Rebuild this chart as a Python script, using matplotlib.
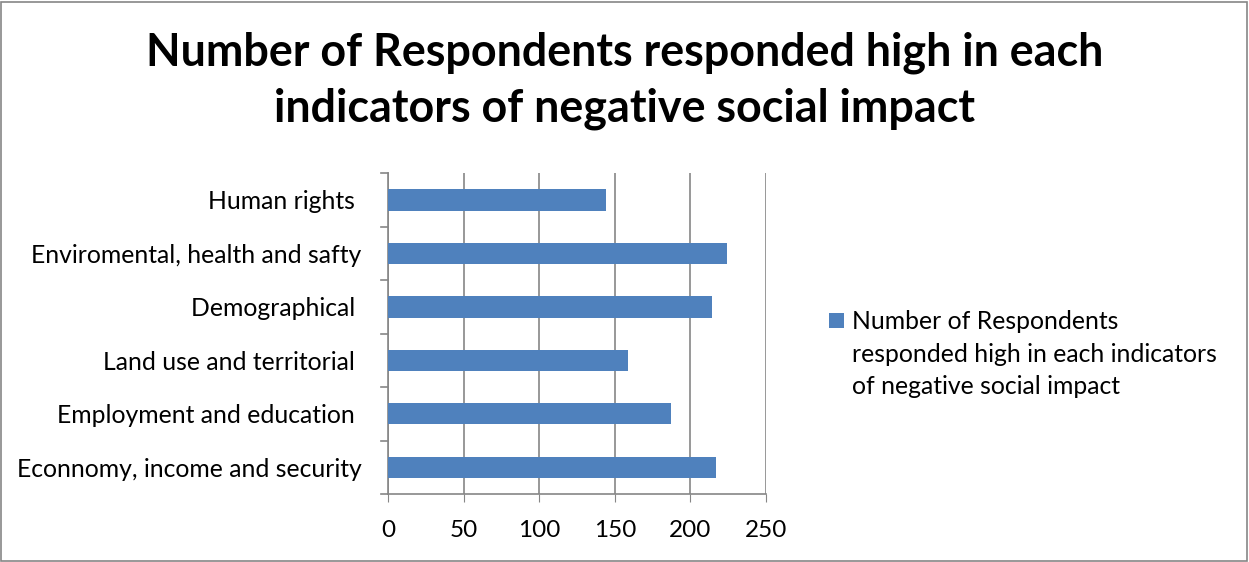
import matplotlib.pyplot as plt
from matplotlib.patches import Rectangle

# Data
categories = ['Econnomy, income and security', 'Employment and education ',
              'Land use and territorial ', 'Demographical ',
              'Enviromental, health and safty', 'Human rights ']
values = [217, 187, 159, 214, 224, 144]
xticks = [0, 50, 100, 150, 200, 250]
series_label = 'Number of Respondents\nresponded high in each indicators\nof negative social impact'
title = 'Number of Respondents responded high in each\nindicators of negative social impact'

plt.rcParams['font.family'] = ['Lato', 'DejaVu Sans']

fig = plt.figure(figsize=(12.49, 5.62), dpi=100)
ax = fig.add_axes([0.3106, 0.121, 0.3027, 0.571])

bars = ax.barh(range(len(categories)), values, height=0.4, color='#4F81BD',
               label=series_label, zorder=3)

ax.set_xlim(0, 250)
ax.set_ylim(-0.5, len(categories) - 0.5)
ax.set_xticks(xticks)
ax.set_xticklabels([str(t) for t in xticks], fontsize=17.5)
ax.set_yticks(range(len(categories)))
ax.set_yticklabels(categories, fontsize=17.8)
ax.tick_params(axis='y', length=0, pad=19)
ax.tick_params(axis='x', length=6, color='#868686', pad=13)

# category tick marks between the bars
for y in [i - 0.5 for i in range(len(categories) + 1)]:
    ax.plot([-0.018, 0], [y, y], transform=ax.get_yaxis_transform(),
            color='#868686', lw=1.2, clip_on=False)

ax.grid(axis='x', color='#868686', lw=1.2, zorder=0)
for side in ['top', 'right']:
    ax.spines[side].set_visible(False)
for side in ['left', 'bottom']:
    ax.spines[side].set_color('#868686')
    ax.spines[side].set_linewidth(1.2)

fig.text(0.5, 0.856, title, ha='center', va='center', fontsize=32.3,
         fontweight='bold', linespacing=1.4)

# legend: swatch aligned with the first text line, as in the reference
fig.add_artist(Rectangle((829 / 1249, 1 - 328 / 562), 15 / 1249, 15 / 562,
                         transform=fig.transFigure,
                         facecolor=bars.patches[0].get_facecolor(), lw=0))
fig.text(852 / 1249, 1 - 354 / 562, series_label, ha='left', va='center',
         fontsize=17.8, linespacing=1.5)

fig.add_artist(Rectangle((0.001, 0.002), 0.997, 0.995, transform=fig.transFigure,
                         fill=False, edgecolor='#868686', lw=1.2))

fig.savefig('out.png', dpi=100)
